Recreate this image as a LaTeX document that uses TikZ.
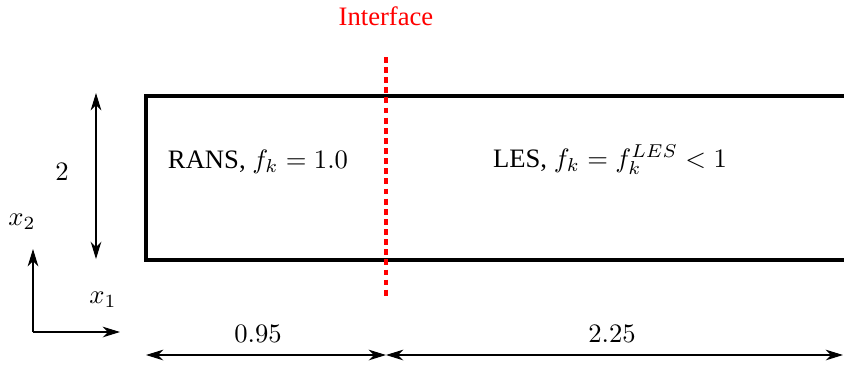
\documentclass[tikz,border=0pt]{standalone}
\usepackage{fontspec}
\setmainfont{Liberation Serif}
\usetikzlibrary{arrows.meta,positioning,calc}

\begin{document}
\begin{tikzpicture}[x=0.0132cm,y=-0.0132cm,
		font=\normalsize,
		wall/.style={line width=1.6pt},
		iface/.style={draw=red,line width=1.3pt,dash pattern=on 2.2pt off 1.6pt},
		dim/.style={{Stealth[length=6.5pt,width=4pt,inset=2pt]}-{Stealth[length=6.5pt,width=4pt,inset=2pt]},thin},
		axis/.style={-{Stealth[length=6.5pt,width=4pt,inset=2pt]},thin},
		lbl/.style={inner sep=1pt},
		]
		\clip (0,0) rectangle (844,367);
		
		% channel walls, open to the right
		\coordinate (tr) at (850,96);
		\coordinate (tl) at (146,96);
		\coordinate (bl) at (146,260);
		\coordinate (br) at (850,260);
		\draw[wall] (tr) -- (tl) -- (bl) -- (br);
		
		% interface
		\node[lbl,text=red] (itxt) at (386,16) {Interface};
		\coordinate (itop) at (386,57);
		\coordinate (ibot) at (386,299);
		\draw[iface] (itop) -- (ibot);
		
		\node[lbl] (rans) at (258,162) {RANS, $f_k=1.0$};
		\node[lbl] (les) at (610,160) {LES, $f_k=f_k^{LES}<1$};
		
		% height
		\coordinate (ht) at (96,93);
		\coordinate (hb) at (96,259);
		\draw[dim] (ht) -- (hb);
		\node[lbl] (h) at (62,172) {$2$};
		
		% lengths
		\coordinate (la) at (146,355);
		\coordinate (lm) at (386,355);
		\coordinate (lb) at (843,355);
		\draw[dim] (la) -- (lm);
		\draw[dim] (lm) -- (lb);
		\node[lbl] (l1) at (258,334) {$0.95$};
		\node[lbl] (l2) at (612,334) {$2.25$};
		
		% axes
		\coordinate (o) at (33,332);
		\coordinate (ey) at (33,249);
		\coordinate (ex) at (120,332);
		\draw[axis] (o) -- (ey);
		\draw[axis] (o) -- (ex);
		\node[lbl] (x2) at (22,222) {$x_2$};
		\node[lbl] (x1) at (103,300) {$x_1$};
\end{tikzpicture}
\end{document}
